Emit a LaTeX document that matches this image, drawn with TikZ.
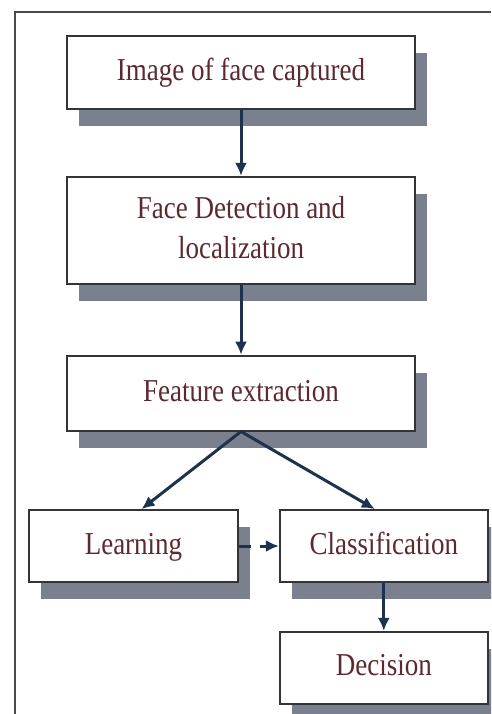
\documentclass[tikz,border=0pt]{standalone}
\usepackage{fontspec}
\setmainfont{Liberation Serif}
\usepackage{graphicx}
\usepackage{xcolor}
\usetikzlibrary{positioning,shadows,arrows.meta}

\definecolor{txtred}{RGB}{92,42,46}
\definecolor{boxline}{RGB}{50,52,56}
\definecolor{shadowgray}{RGB}{122,128,142}
\definecolor{arrowblue}{RGB}{30,50,78}
\definecolor{framegray}{RGB}{70,74,80}
\newcommand{\tall}[1]{\scalebox{1}[1.18]{\strut#1}}

\begin{document}
\begin{tikzpicture}[x=1pt,y=-1pt,>={Latex[length=13pt,width=12pt]},
  blk/.style={rectangle, draw=boxline, line width=1.8pt, fill=white,
    text=txtred, font=\fontsize{27}{34}\selectfont, inner sep=0pt,
    drop shadow={shadow xshift=12pt, shadow yshift=-17pt, fill=shadowgray, opacity=1}},
  conn/.style={draw=arrowblue, line width=3pt, ->}]
  \useasboundingbox (0,0) rectangle (491,714);
  \clip (0,0) rectangle (491,714);
  \draw[framegray, line width=1.6pt] (15,714) -- (15,12) -- (491,12);

  \node[blk, minimum width=348pt, minimum height=73pt] (capture) at (241,72.5) {\tall{Image of face captured}};
  \node[blk, minimum width=348pt, minimum height=107pt, below=66pt of capture] (detect)
    {\tall{\begin{tabular}{@{}c@{}}Face Detection and\\localization\end{tabular}}};
  \node[blk, minimum width=348pt, minimum height=75pt, below=70pt of detect] (feature)
    {\raisebox{5pt}{\tall{Feature extraction}}};
  \node[blk, minimum width=209pt, minimum height=72pt] (learn) at (133.5,546) {\tall{Learning}};
  \node[blk, minimum width=208pt, minimum height=72pt, right=40pt of learn] (classif) {\tall{Classification}};
  \node[blk, minimum width=208pt, minimum height=72pt, below=48pt of classif] (decide) {\tall{Decision}};

  \draw[conn] (capture) -- (detect);
  \draw[conn] (detect) -- (feature);
  \draw[conn] (feature.south) -- ([xshift=8pt]learn.north);
  \draw[conn] (feature.south) -- ([xshift=-9pt]classif.north);
  \draw[conn, dash pattern=on 12pt off 9pt] (learn) -- (classif);
  \draw[conn] (classif) -- (decide);
\end{tikzpicture}
\end{document}
